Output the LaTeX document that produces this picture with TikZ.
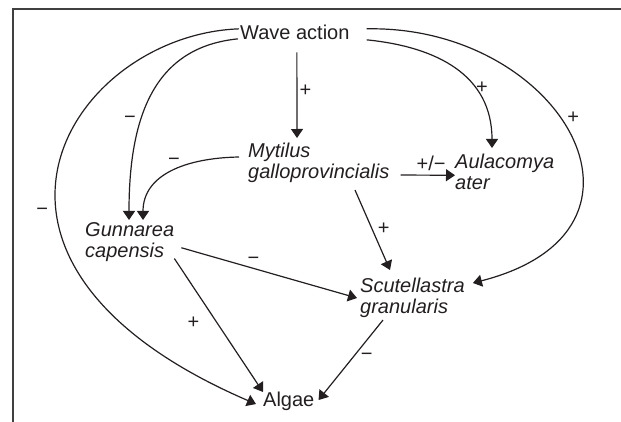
\documentclass[tikz,border=0pt]{standalone}
\usepackage{fontspec}
\setmainfont{Liberation Sans}
\usetikzlibrary{arrows.meta}
\definecolor{ink}{HTML}{231F20}
\tikzset{
  sp/.style={inner sep=0pt, align=left, anchor=north west, font=\fontsize{20}{21}\selectfont\itshape, text=ink},
  plain/.style={sp, font=\fontsize{20}{21}\selectfont, anchor=base west},
  lbl/.style={inner sep=0pt, font=\fontsize{20}{21}\selectfont, text=ink},
  arr/.style={-{Triangle[length=9pt,width=12pt]}, line width=1.2pt, draw=ink},
  frame/.style={line width=1.5pt, draw=black!75}
}
\begin{document}
\begin{tikzpicture}[x=1pt,y=-1pt]
\useasboundingbox (0,0) rectangle (621,422);
\draw[frame] (13,422) |- (621,9);

% species and drivers
\node[plain] (wave) at (240,40) {Wave action};
\node[sp] (myt) at (248,143) {Mytilus\\galloprovincialis};
\node[sp] (aul) at (455,153.7) {Aulacomya\\ater};
\node[sp] (gun) at (85,222) {Gunnarea\\capensis};
\node[sp] (scu) at (360,278) {Scutellastra\\granularis};
\node[plain] (alg) at (263,406.7) {Algae};

% effects of wave action
\draw[arr] ([xshift=2pt,yshift=-12pt]wave.south) -- ([xshift=49pt,yshift=5pt]myt.north west) node[lbl,pos=0.45,right=2pt]{+};
\draw[arr] ([xshift=-2pt,yshift=-6pt]wave.west) .. controls +(-80,8) and +(0,-110) .. ([xshift=44pt,yshift=2pt]gun.north west) node[lbl,pos=0.64,left=5pt]{−};
\draw[arr] ([xshift=-1pt,yshift=4pt]wave.west) .. controls +(-167,6) and +(-334,-144) .. ([xshift=-7pt,yshift=-2.5pt]alg.west) node[lbl,pos=0.6,left=9pt]{−};
\draw[arr] ([xshift=17pt,yshift=-7pt]wave.east) .. controls +(70,7) and +(0,-73) .. ([xshift=37pt,yshift=5.7pt]aul.north west) node[lbl,pos=0.66,right=1pt]{+};
\draw[arr] ([xshift=17pt,yshift=4pt]wave.east) .. controls +(193,-4) and +(207,-53) .. ([xshift=8pt,yshift=-5pt]scu.north east) node[lbl,pos=0.45,right=7pt]{+};

% species interactions
\draw[arr] ([xshift=-9pt,yshift=-14pt]myt.north west) .. controls +(-54,1) and +(0,-45) .. ([xshift=58pt,yshift=2pt]gun.north west) node[lbl,pos=0.47,above=4pt]{−};
\draw[arr] ([xshift=11pt,yshift=8pt]myt.south east) -- ([yshift=-3.5pt]aul.west) node[lbl,pos=0.56,above=4pt]{+/−};
\draw[arr] ([xshift=107pt,yshift=-7pt]myt.south west) -- ([xshift=30pt,yshift=8pt]scu.north west) node[lbl,pos=0.49,right=5pt]{+};
\draw[arr] ([xshift=7pt,yshift=-6pt]gun.east) -- ([xshift=-3pt]scu.west) node[lbl,pos=0.41,above=3pt]{−};
\draw[arr] ([yshift=3pt]gun.south east) -- (alg.north west) node[lbl,pos=0.48,left=17pt]{+};
\draw[arr] ([xshift=23pt,yshift=-2pt]scu.south west) -- ([xshift=4pt,yshift=1.5pt]alg.east) node[lbl,pos=0.46,right=7pt]{−};
\end{tikzpicture}
\end{document}
